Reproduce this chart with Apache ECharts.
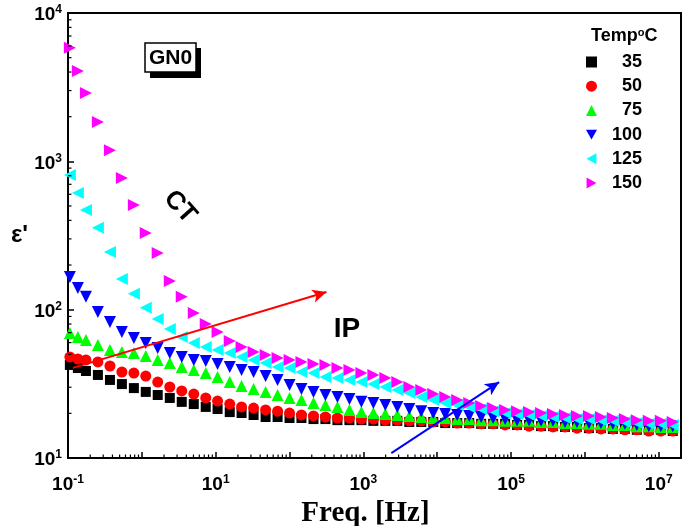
<!DOCTYPE html>
<html>
<head>
<meta charset="utf-8">
<script src="https://cdn.jsdelivr.net/npm/echarts@6/dist/echarts.min.js"></script>
<style>html,body{margin:0;padding:0;background:#fff;}#c{width:685px;height:526px;}</style>
</head>
<body>
<div id="c"></div>
<script>
const freq = [0.106, 0.136, 0.175, 0.254, 0.37, 0.537, 0.78, 1.13, 1.64, 2.39, 3.47, 5.05, 7.33, 10.6, 15.5, 22.4, 32.6, 47.4, 68.9, 100, 145, 211, 306, 445, 647, 940, 1365, 1983, 2880, 4185, 6080, 8830, 12830, 18640, 27080, 39340, 57150, 83010, 120600, 175200, 254500, 369700, 537000, 780000, 1133000, 1646000, 2391000, 3474000, 5046000, 7330000, 10650000, 15450000];

const eps35 = [42.4, 40.4, 38.6, 36.3, 33.6, 31.5, 29.6, 27.9, 26.6, 25.4, 23.9, 23.1, 22.1, 21.4, 20.4, 20.1, 19.5, 18.9, 18.9, 18.6, 18.6, 18.3, 18.3, 18.0, 18.0, 18.0, 17.8, 17.8, 17.8, 17.5, 17.5, 17.5, 17.2, 17.2, 17.2, 17.0, 17.0, 17.0, 16.7, 16.7, 16.4, 16.4, 16.2, 16.2, 15.9, 15.9, 15.7, 15.7, 15.5, 15.5, 15.5, 15.2];
const eps50 = [48.0, 46.5, 45.8, 44.4, 41.7, 38.0, 37.4, 35.7, 32.5, 30.1, 28.3, 27.0, 25.4, 24.2, 23.1, 22.1, 21.7, 21.1, 20.7, 20.1, 19.5, 19.2, 18.9, 18.6, 18.6, 18.3, 18.3, 18.0, 18.0, 17.8, 17.8, 17.5, 17.5, 17.2, 17.2, 17.0, 17.0, 16.7, 16.7, 16.4, 16.4, 16.2, 16.2, 15.9, 15.9, 15.7, 15.7, 15.5, 15.5, 15.2, 15.2, 15.2];
const eps75 = [69.7, 65.5, 62.5, 57.8, 53.5, 51.9, 51.1, 48.7, 45.8, 43.7, 41.1, 39.2, 37.4, 35.2, 32.5, 30.6, 29.2, 27.9, 26.6, 25.4, 24.6, 23.5, 22.8, 22.1, 21.1, 20.4, 20.1, 19.8, 19.5, 19.2, 18.9, 18.6, 18.6, 18.3, 18.3, 18.0, 18.0, 17.8, 17.8, 17.8, 17.5, 17.5, 17.2, 17.2, 17.0, 17.0, 16.7, 16.7, 16.4, 16.4, 16.2, 16.2];
const eps100 = [166, 140, 122, 96.5, 82.6, 70.8, 64.5, 59.6, 55.2, 51.1, 48.0, 45.8, 45.1, 43.0, 41.1, 39.2, 38.0, 35.7, 33.6, 31.1, 29.2, 27.9, 26.6, 25.8, 25.0, 23.9, 23.5, 22.8, 22.1, 21.4, 20.7, 20.1, 19.8, 19.5, 19.2, 18.9, 18.6, 18.3, 18.0, 18.0, 17.8, 17.8, 17.5, 17.5, 17.2, 17.2, 17.0, 17.0, 16.7, 16.4, 16.4, 16.4];
const eps125 = [810, 612, 470, 356, 245, 161, 128, 103, 86.6, 74.1, 65.5, 59.6, 56.1, 53.5, 51.1, 48.0, 45.8, 43.7, 41.1, 40.4, 38.0, 37.4, 35.2, 34.6, 33.6, 32.5, 31.5, 30.1, 28.7, 27.4, 25.8, 24.6, 23.5, 22.8, 22.1, 21.4, 20.7, 20.1, 19.8, 19.5, 19.2, 18.9, 18.6, 18.3, 18.3, 18.0, 17.8, 17.5, 17.2, 17.0, 17.0, 16.7];
const eps150 = [5820, 4070, 2890, 1840, 1190, 773, 508, 329, 241, 156, 122, 95.0, 80.1, 70.8, 61.5, 56.1, 51.9, 49.5, 47.2, 45.8, 44.4, 43.0, 42.4, 40.4, 39.2, 37.4, 36.3, 34.6, 32.5, 30.1, 28.7, 27.0, 25.8, 24.6, 23.5, 22.4, 21.7, 21.1, 20.7, 20.4, 20.1, 19.8, 19.5, 19.2, 19.2, 18.9, 18.6, 18.3, 18.0, 17.8, 17.8, 17.5];

const temps = ['35', '50', '75', '100', '125', '150'];
const colors = ['#000000', '#ff0000', '#00ff00', '#0000ff', '#00ffff', '#ff00ff'];
const symbols = ['rect', 'circle', 'triangle', 'triangle', 'triangle', 'triangle'];
const rotations = [0, 0, 0, 180, 90, -90];
const sizes = [10, 11, 12, 12, 12, 12];
const legendIcons = ['rect', 'circle', 'triangle', 'path://M0,0L10,0L5,9Z', 'path://M9,0L9,10L0,5Z', 'path://M0,0L0,10L9,5Z'];
const allEps = [eps35, eps50, eps75, eps100, eps125, eps150];

const arrowRed = [[0.117, 40.5], [316, 131.5]];
const arrowBlue = [[2390, 10.8], [68900, 32.5]];

const xMin = 0.1, xMax = 2e7, yMin = 10, yMax = 10000;

const FONT = 'Liberation Sans';

// minor tick values (2..9 x 10^n)
const xMinor = [];
for (let n = -1; n <= 7; n++) for (let k = 2; k <= 9; k++) { const v = k * Math.pow(10, n); if (v < xMax) xMinor.push(v); }
const yMinor = [];
for (let n = 1; n <= 3; n++) for (let k = 2; k <= 9; k++) yMinor.push(k * Math.pow(10, n));

function powLabel(v, onlyOdd) {
  const l = Math.log10(v);
  const e = Math.round(l);
  if (Math.abs(l - e) > 1e-6) return '';
  if (onlyOdd && Math.abs(e % 2) !== 1) return '';
  return '{b|10}{s|' + e + '}';
}
const labelRich = {
  b: {fontFamily: FONT, fontWeight: 'bold', fontSize: 19, color: '#000', lineHeight: 22},
  s: {fontFamily: FONT, fontWeight: 'bold', fontSize: 12, color: '#000', verticalAlign: 'top', lineHeight: 12}
};

const series = temps.map((t, i) => ({
  name: t,
  type: 'scatter',
  symbol: symbols[i],
  symbolRotate: rotations[i],
  symbolSize: sizes[i],
  itemStyle: {color: colors[i], opacity: 1},
  data: freq.map((f, k) => [f, allEps[i][k]])
}));
series.push({
  name: 'arrows', type: 'scatter', z: 20, data: [],
  markLine: {
    silent: true, z: 30,
    symbol: ['none', 'arrow'],
    symbolSize: [10, 14],
    label: {show: false},
    animation: false,
    data: [
      [{coord: arrowRed[0], lineStyle: {color: '#ff0000', width: 2, type: 'solid'}}, {coord: arrowRed[1]}],
      [{coord: arrowBlue[0], lineStyle: {color: '#0000ff', width: 2, type: 'solid'}}, {coord: arrowBlue[1]}]
    ]
  }
});
series.push({
  name: 'xMinorTicks', type: 'custom', silent: true, clip: false, z: 5,
  data: xMinor.map(v => [v, yMin]),
  renderItem: (params, api) => {
    const p = api.coord([api.value(0), api.value(1)]);
    return {type: 'line', shape: {x1: p[0], y1: p[1], x2: p[0], y2: p[1] - 3.5}, style: {stroke: '#000', lineWidth: 1.2}};
  }
});
series.push({
  name: 'yMinorTicks', type: 'custom', silent: true, clip: false, z: 5,
  data: yMinor.map(v => [xMin, v]),
  renderItem: (params, api) => {
    const p = api.coord([api.value(0), api.value(1)]);
    return {type: 'line', shape: {x1: p[0], y1: p[1], x2: p[0] + 3.5, y2: p[1]}, style: {stroke: '#000', lineWidth: 1.2}};
  }
});

const chart = echarts.init(document.getElementById('c'), null, {renderer: 'canvas'});
chart.setOption({
  animation: false,
  backgroundColor: '#fff',
  grid: {left: 68, right: 4, top: 13, bottom: 68, show: true, borderColor: '#000', borderWidth: 2, backgroundColor: 'transparent', containLabel: false, outerBoundsMode: 'none'},
  xAxis: {
    type: 'log', logBase: 10, min: xMin, max: xMax, interval: 1,
    name: 'Freq. [Hz]', nameLocation: 'middle', nameGap: 33,
    nameTextStyle: {fontFamily: 'Liberation Serif', fontWeight: 'bold', fontSize: 29, color: '#000', padding: [0, 18, 0, 0]},
    axisLine: {lineStyle: {color: '#000', width: 2}},
    axisTick: {inside: true, length: 6, lineStyle: {color: '#000', width: 1.5}},
    minorTick: {show: false},
    splitLine: {show: false}, minorSplitLine: {show: false},
    axisLabel: {interval: 0, margin: 16, formatter: v => powLabel(v, true), rich: labelRich}
  },
  yAxis: {
    type: 'log', logBase: 10, min: yMin, max: yMax, interval: 1,
    name: "ε'", nameLocation: 'middle', nameRotate: 0, nameGap: 40,
    nameTextStyle: {fontFamily: FONT, fontWeight: 'bold', fontSize: 24, color: '#000', padding: [28, 0, 0, 0]},
    axisLine: {lineStyle: {color: '#000', width: 2}},
    axisTick: {inside: true, length: 6, lineStyle: {color: '#000', width: 1.5}},
    minorTick: {show: false},
    splitLine: {show: false}, minorSplitLine: {show: false},
    axisLabel: {margin: 6, padding: [4, 0, 0, 0], formatter: v => powLabel(v, false), rich: labelRich}
  },
  legend: {
    orient: 'vertical', left: 586, top: 53, padding: 0,
    itemWidth: 11, itemHeight: 11, itemGap: 6.2,
    selectedMode: false,
    data: temps.map((t, i) => ({name: t, icon: legendIcons[i]})),
    formatter: n => '{a|' + n + '}',
    textStyle: {rich: {a: {width: 40, align: 'right', fontFamily: FONT, fontWeight: 'bold', fontSize: 18, lineHeight: 18, color: '#000'}}}
  },
  graphic: [
    {type: 'text', left: 591, top: 27, style: {text: '{a|Temp}{o|o}{a|C}', rich: {
      a: {fontFamily: FONT, fontWeight: 'bold', fontSize: 18, fill: '#000', lineHeight: 19},
      o: {fontFamily: FONT, fontWeight: 'bold', fontSize: 11, fill: '#000', verticalAlign: 'top', lineHeight: 11}
    }}},
    {type: 'rect', shape: {x: 150, y: 48, width: 51, height: 30}, style: {fill: '#000'}},
    {type: 'rect', shape: {x: 145, y: 43, width: 51, height: 29}, style: {fill: '#fff', stroke: '#000', lineWidth: 1.5}},
    {type: 'text', x: 170.5, y: 58, style: {text: 'GN0', fontFamily: FONT, fontWeight: 'bold', fontSize: 21, fill: '#000', align: 'center', verticalAlign: 'middle'}},
    {type: 'text', x: 180, y: 207, rotation: -0.84, style: {text: 'CT', fontFamily: FONT, fontWeight: 'bold', fontSize: 26, fill: '#000', align: 'center', verticalAlign: 'middle'}},
    {type: 'text', x: 347, y: 329, style: {text: 'IP', fontFamily: FONT, fontWeight: 'bold', fontSize: 28, fill: '#000', align: 'center', verticalAlign: 'middle'}}
  ],
  series: series
});
</script>
</body>
</html>
